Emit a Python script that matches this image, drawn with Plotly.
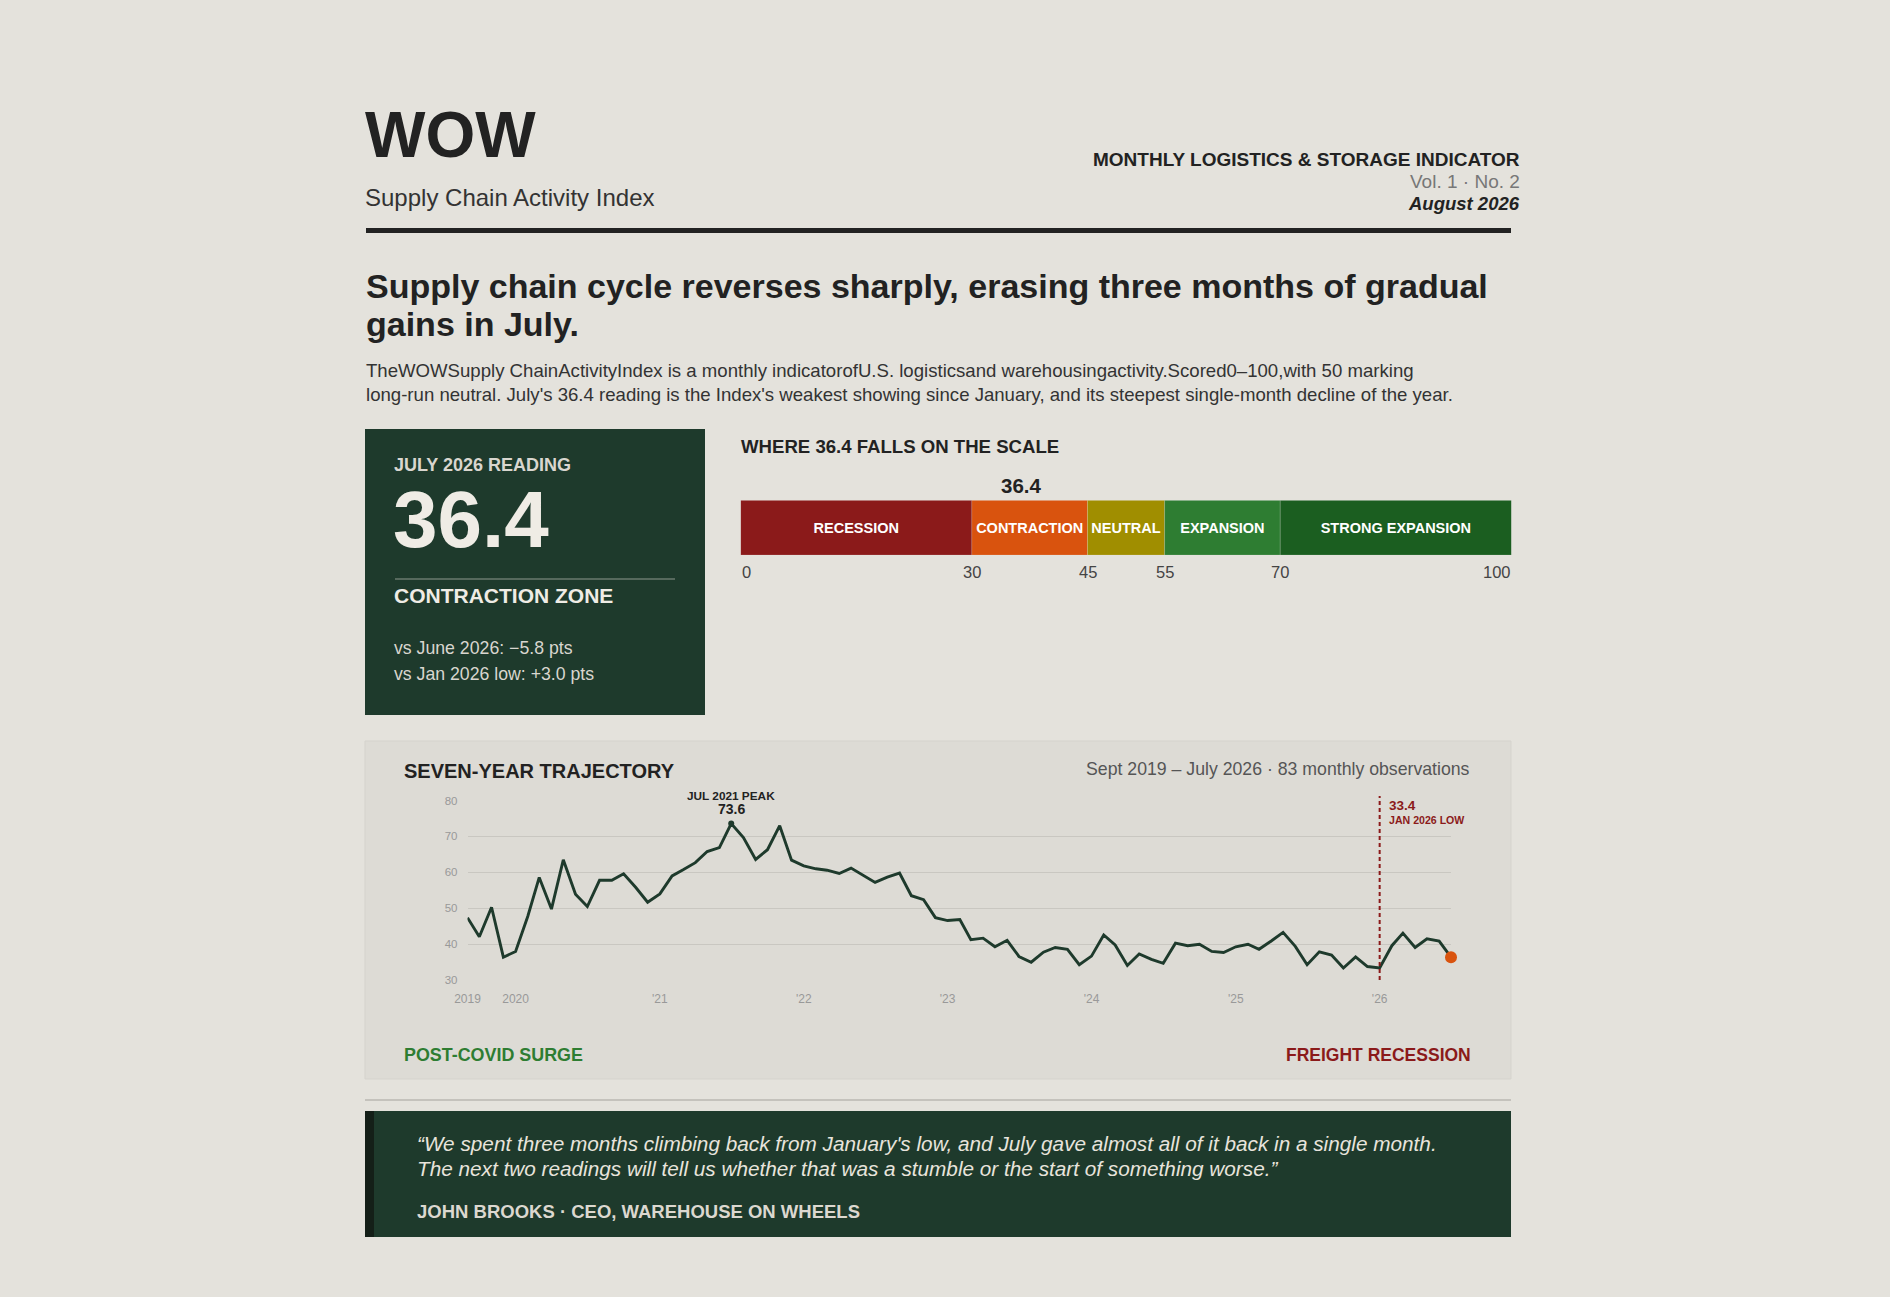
import pandas as pd
import plotly.graph_objects as go

W, H = 1890, 1297
FONT = "Liberation Sans, Arial, sans-serif"

BG = "#e4e2dc"
PANEL = "#dddbd5"
DARK = "#1e3a2c"
INK = "#222222"
RED = "#8b1a1a"
ORANGE = "#d9530e"

# monthly index readings, Sept 2019 - July 2026
months = pd.date_range("2019-09-01", "2026-07-01", freq="MS")
index_values = [
    47.4, 42.1, 50.3, 36.4, 38.0, 47.8, 58.6, 49.8, 63.5, 53.9, 50.5, 57.8,
    57.8, 59.6, 55.8, 51.7, 54.0, 59.0, 60.7, 62.7, 65.8, 66.9, 73.6, 69.7,
    63.6, 66.3, 73.0, 63.4, 61.8, 61.0, 60.6, 59.7, 61.2, 59.2, 57.2, 58.7,
    59.8, 53.5, 52.4, 47.4, 46.6, 46.9, 41.3, 41.7, 39.3, 41.1, 36.6, 35.0,
    37.8, 39.1, 38.6, 34.3, 36.7, 42.6, 39.8, 34.1, 37.3, 35.8, 34.7, 40.3,
    39.6, 40.0, 38.0, 37.7, 39.3, 40.0, 38.6, 40.9, 43.3, 39.4, 34.3, 37.9,
    37.0, 33.4, 36.5, 33.8, 33.4, 39.6, 43.1, 39.1, 41.5, 40.9, 36.4,
]

tick_dates = ["2019-09-01", "2020-01-01", "2021-01-01", "2022-01-01",
              "2023-01-01", "2024-01-01", "2025-01-01", "2026-01-01"]
tick_text = ["2019", "2020", "'21", "'22", "'23", "'24", "'25", "'26"]

# scale zones
zone_names = ["RECESSION", "CONTRACTION", "NEUTRAL", "EXPANSION", "STRONG EXPANSION"]
zone_start = [0, 30, 45, 55, 70]
zone_end = [30, 45, 55, 70, 100]
zone_colors = ["#8b1a1a", "#d9530e", "#a08e00", "#2e7d32", "#1b5e20"]
scale_ticks = [0, 30, 45, 55, 70, 100]

reading = 36.4
peak_date, peak_value = "2021-07-01", 73.6
low_date, low_value = "2026-01-01", 33.4


def px(x):
    return x / W


def py(y):
    return 1 - y / H


annotations = []


def txt(x, y, s, size, color=INK, xanchor="left", xref="paper"):
    annotations.append(dict(
        x=x if xref != "paper" else px(x), y=py(y), xref=xref, yref="paper",
        text=s, showarrow=False, xanchor=xanchor, yanchor="middle",
        borderpad=0, font=dict(family=FONT, size=size, color=color),
    ))


def rect(x0, y0, x1, y1, color, layer="below"):
    return dict(type="rect", xref="paper", yref="paper", x0=px(x0), x1=px(x1),
                y0=py(y1), y1=py(y0), fillcolor=color, line_width=0, layer=layer)


shapes = [
    rect(366, 228, 1511, 233, INK),
    rect(365, 429, 705, 715, DARK),
    rect(395, 578, 675, 580, "#56695d", layer="above"),
    dict(type="rect", xref="paper", yref="paper", x0=px(365), x1=px(1511),
         y0=py(1079), y1=py(741), fillcolor=PANEL, line=dict(color="#d5d3cd", width=1),
         layer="below"),
    rect(365, 1099, 1511, 1101, "#c4c2bc"),
    rect(365, 1111, 1511, 1237, DARK),
    rect(365, 1111, 374, 1237, "#141f18"),
    dict(type="line", xref="x", yref="paper", x0=low_date, x1=low_date,
         y0=py(980), y1=py(796), line=dict(color=RED, width=2, dash="4px,3px")),
]

# masthead
txt(364, 135, "<b>WOW</b>", 64)
txt(364, 197, "Supply Chain Activity Index", 24, "#333333")
txt(1521, 159, "<b>MONTHLY LOGISTICS &amp; STORAGE INDICATOR</b>", 19, xanchor="right")
txt(1521, 182, "Vol. 1 · No. 2", 19, "#777777", xanchor="right")
txt(1521, 204, "<b><i>August 2026</i></b>", 18.5, xanchor="right")

# headline and intro
txt(365, 285.5, "<b>Supply chain cycle reverses sharply, erasing three months of gradual</b>", 34)
txt(365, 323.5, "<b>gains in July.</b>", 34)
txt(365, 370, "TheWOWSupply ChainActivityIndex is a monthly indicatorofU.S. logisticsand "
    "warehousingactivity.Scored0–100,with 50 marking", 18.6, "#333333")
txt(365, 395, "long-run neutral. July's 36.4 reading is the Index's weakest showing since "
    "January, and its steepest single-month decline of the year.", 18.6, "#333333")

# reading card
txt(393, 465.5, "<b>JULY 2026 READING</b>", 18, "#d9d6cf")
txt(392, 519, f"<b>{reading}</b>", 80, "#efece5")
txt(393, 595, "<b>CONTRACTION ZONE</b>", 21, "#efece5")
txt(393, 647.5, "vs June 2026: −5.8 pts", 17.7, "#d9d6cf")
txt(393, 673.5, "vs Jan 2026 low: +3.0 pts", 17.7, "#d9d6cf")

# scale
txt(740, 446, "<b>WHERE 36.4 FALLS ON THE SCALE</b>", 18.6, INK)
txt(reading, 486, f"<b>{reading}</b>", 20.5, xanchor="center", xref="x2")
for t in scale_ticks:
    anchor = "left" if t == scale_ticks[0] else "right" if t == scale_ticks[-1] else "center"
    txt(t, 572, str(t), 16.5, "#444444", xanchor=anchor, xref="x2")

# trajectory panel
txt(403, 771, "<b>SEVEN-YEAR TRAJECTORY</b>", 20)
txt(1471, 769, "Sept 2019 – July 2026 · 83 monthly observations", 17.7, "#555555", xanchor="right")
txt(peak_date, 796, "<b>JUL 2021 PEAK</b>", 11.8, xanchor="center", xref="x")
txt(peak_date, 808.5, f"<b>{peak_value}</b>", 14, xanchor="center", xref="x")
txt(1388, 805, f"<b>{low_value}</b>", 13.5, RED)
txt(1388, 820, "<b>JAN 2026 LOW</b>", 10.6, RED)
txt(403, 1055, "<b>POST-COVID SURGE</b>", 17.9, "#2e7d32")
txt(1472, 1055, "<b>FREIGHT RECESSION</b>", 17.5, RED, xanchor="right")

# quote
txt(416, 1143, "<i>“We spent three months climbing back from January's low, and July gave "
    "almost all of it back in a single month.</i>", 20.75, "#e8e4dc")
txt(416, 1168, "<i>The next two readings will tell us whether that was a stumble or the "
    "start of something worse.”</i>", 20.75, "#e8e4dc")
txt(416, 1211, "<b>JOHN BROOKS · CEO, WAREHOUSE ON WHEELS</b>", 18.5, "#dcd8d0")

fig = go.Figure()

fig.add_trace(go.Scatter(
    x=months, y=index_values, mode="lines",
    line=dict(color=DARK, width=2.9), hoverinfo="skip",
))
fig.add_trace(go.Scatter(
    x=[peak_date], y=[peak_value], mode="markers",
    marker=dict(color=DARK, size=6), hoverinfo="skip",
))
fig.add_trace(go.Scatter(
    x=[months[-1]], y=[index_values[-1]], mode="markers", cliponaxis=False,
    marker=dict(color=ORANGE, size=12), hoverinfo="skip",
))

fig.add_trace(go.Bar(
    y=[0] * len(zone_names),
    x=[e - s for s, e in zip(zone_start, zone_end)],
    base=zone_start, orientation="h", width=1,
    marker=dict(color=zone_colors, line=dict(color="rgba(255,255,255,0.25)", width=0.6)),
    text=zone_names, textposition="inside", insidetextanchor="middle",
    textangle=0, constraintext="none",
    textfont=dict(family=FONT, size=14.5, color="white", weight="bold"),
    xaxis="x2", yaxis="y2", hoverinfo="skip",
))

fig.update_layout(
    width=W, height=H,
    margin=dict(l=0, r=0, t=0, b=0, pad=0, autoexpand=False),
    paper_bgcolor=BG, plot_bgcolor="rgba(0,0,0,0)",
    showlegend=False,
    font=dict(family=FONT, color=INK),
    shapes=shapes, annotations=annotations,
    xaxis=dict(
        domain=[px(467.5), px(1451)], type="date",
        range=[months[0], months[-1]],
        tickvals=tick_dates, ticktext=tick_text,
        showgrid=False, zeroline=False, showline=False, ticks="",
        ticklabelstandoff=10, automargin=False,
        tickfont=dict(family=FONT, size=12, color="#999999"),
        fixedrange=True,
    ),
    yaxis=dict(
        domain=[py(980.2), py(800.5)], range=[30, 80], dtick=10,
        showgrid=True, gridcolor="#c9c7c1", gridwidth=1,
        zeroline=False, showline=False, ticks="",
        ticklabelstandoff=9, automargin=False,
        tickfont=dict(family=FONT, size=11.5, color="#999999"),
        fixedrange=True,
    ),
    xaxis2=dict(domain=[px(740.6), px(1511.5)], range=[0, 100], visible=False,
                anchor="y2", fixedrange=True, automargin=False),
    yaxis2=dict(domain=[py(555), py(500.3)], range=[-0.5, 0.5], visible=False,
                anchor="x2", fixedrange=True, automargin=False),
)

# drop the default body margin so the figure sits flush with the window
fig.write_html("out.html", config={"displayModeBar": False},
               post_script="document.body.style.margin='0';")
